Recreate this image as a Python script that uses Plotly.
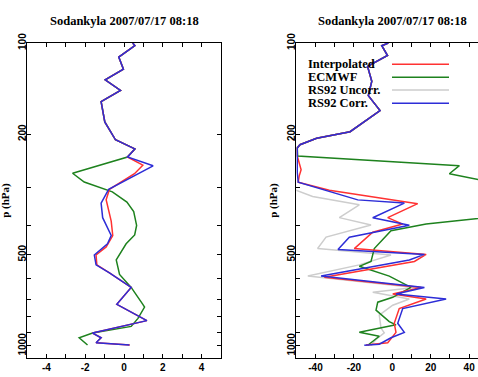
import plotly.graph_objects as go
import math

# ---------------- data ----------------
TITLE = "Sodankyla 2007/07/17 08:18"
series_names = ["Interpolated", "ECMWF", "RS92 Uncorr.", "RS92 Corr."]
series_colors = ["rgb(255,50,50)", "rgb(30,130,30)", "rgb(205,205,205)", "rgb(45,45,215)"]

# Left panel (pressure hPa, value)
top_p = [100, 102, 111.2, 121.9, 132.2, 143.4, 156, 182.2, 208.6, 223.6, 237.8]
top_x = [0.45, 0.56, -0.27, -0.03, -0.97, -0.18, -1.18, -0.99, -0.44, 0.56, 0.18]

left_corr_p = top_p + [254.2, 304.2, 337.6, 377.2, 401, 432, 460, 501, 540, 574, 641, 729, 825, 907, 940, 976, 993]
left_corr_x = top_x + [1.50, -0.79, -1.18, -1.10, -0.92, -0.66, -0.85, -1.53, -1.44, -0.75, 0.37, -0.37, 1.18, -1.62, -1.18, -1.44, 0.28]

left_interp_p = top_p + [253, 270, 304, 329, 359, 387, 432, 471, 501, 540, 574, 641, 729, 825, 907, 940, 976, 993]
left_interp_x = top_x + [0.97, 0.54, -0.75, -0.92, -0.79, -0.66, -0.58, -0.92, -1.44, -1.40, -0.75, 0.37, -0.37, 1.18, -1.62, -1.18, -1.44, 0.30]

left_ecmwf_p = top_p + [269, 287.6, 310, 335, 360, 400, 430, 460, 520, 581, 641, 729, 744, 811, 862, 907, 940, 993]
left_ecmwf_x = top_x + [-2.65, -2.05, -0.6, 0.15, 0.5, 0.65, 0.55, 0.11, -0.40, -0.23, 0.37, 0.97, 1.06, 0.72, 0.37, -1.62, -2.31, -1.88]

# Right panel (pressure hPa, value)
rtop_p = [100, 102, 109.9, 119.4, 133.8, 149.1, 167, 196.2, 206.2, 216.5]
rtop_x = [-2.1, -5.5, -2.5, -12.9, -10.7, -12.5, -6.4, -22, -39.4, -48.1]

right_corr_p = rtop_p + [222, 236, 267, 288, 309.7, 329.4, 337.6, 377.2, 399.3, 437.4, 480.6, 498.6, 520, 588, 641, 674, 700, 753, 842, 902, 940, 987, 995]
right_corr_x = rtop_x + [-49.5, -49.5, -49.5, -49, -32.8, -18, 6.25, -10.2, 8.85, -22.4, -28.3, 16.7, 8.85, -37.1, 16.7, 1.9, 28, 5.4, 2.8, 6.25, -0.7, -6.8, -14.6]

right_interp_p = rtop_p + [222, 236, 262, 275, 288, 306, 339, 377, 396, 421.5, 477, 498.6, 526, 593, 641, 674, 700, 753, 842, 902, 976, 993]
right_interp_x = rtop_x + [-49.5, -49.5, -47.5, -48.5, -49, -32.8, 13.2, -2.4, 5.4, -10.2, -19.8, 17.6, 11.5, -35.4, 15, 0.2, 17.6, 3.6, 1.0, 1.9, -2.4, -13.7]

right_uncorr_p = rtop_p + [235, 290, 306, 321, 342, 377, 399, 437, 477, 501, 540, 588, 641, 665.5, 700, 734, 791, 873, 906, 952, 995]
right_uncorr_x = rtop_x + [-55, -55, -50.2, -41.5, -17.2, -27.6, -11.1, -34.5, -38.9, -0.7, -17.2, -44, 11.5, -10.2, 8.85, 0.2, -6.8, -5.9, -4.2, -8.5, -11.1]

right_ecmwf_p = rtop_p + [222, 236, 254, 270, 304, 355, 396, 416.5, 477, 526, 546, 588, 641, 691, 717, 762, 831, 852, 902, 929, 995]
right_ecmwf_x = rtop_x + [-49.5, -49.3, 34.9, 29.7, 70, 87, 17.6, -0.7, -9.4, -11.1, -17.2, -1.6, 9.7, 0.2, -7.6, -8.5, -1.6, 1.9, -17.2, -6.8, -12.8]

left_xticks = list(range(-5, 6))
left_xlabels = ["", "-4", "", "-2", "", "0", "", "2", "", "4", ""]
right_xticks = list(range(-50, 50, 10))
right_xlabels = ["", "-40", "", "-20", "", "0", "", "20", "", "40"]
p_ticks = [100, 200, 300, 400, 500, 600, 700, 800, 900, 1000]
p_labels = ["100", "200", "", "", "500", "", "", "", "", "1000"]

# ---------------- figure ----------------
W, H = 478, 377
fig = go.Figure()

def add(xs, ps, color, xa, ya):
    fig.add_trace(go.Scatter(x=xs, y=ps, mode="lines", xaxis=xa, yaxis=ya,
                             line=dict(color=color, width=1.5), showlegend=False,
                             hoverinfo="skip"))

# left panel
add(left_ecmwf_x, left_ecmwf_p, series_colors[1], "x", "y")
add(left_interp_x, left_interp_p, series_colors[0], "x", "y")
add(left_corr_x, left_corr_p, series_colors[3], "x", "y")
# right panel
add(right_uncorr_x, right_uncorr_p, series_colors[2], "x2", "y2")
add(right_ecmwf_x, right_ecmwf_p, series_colors[1], "x2", "y2")
add(right_interp_x, right_interp_p, series_colors[0], "x2", "y2")
add(right_corr_x, right_corr_p, series_colors[3], "x2", "y2")

tickfont = dict(family="Liberation Sans", size=10, color="black", weight="bold")
ybot = math.log10(1098)
ydom = [1 - 357.7 / H, 1 - 34 / H]

xcommon = dict(showline=True, linecolor="black", linewidth=1.2, ticks="inside", ticklen=4,
               tickcolor="black", showgrid=False, zeroline=False, tickfont=tickfont,
               mirror="ticks")
ycommon = dict(type="log", range=[ybot, 2], showline=True, linecolor="black", linewidth=1.2,
               ticks="inside", ticklen=4, tickcolor="black", showgrid=False, zeroline=False,
               tickfont=tickfont, tickangle=-90, tickvals=p_ticks, ticktext=p_labels,
               domain=ydom, ticklabelstandoff=-4)

fig.update_layout(
    width=W, height=H, margin=dict(l=0, r=0, t=0, b=0),
    paper_bgcolor="white", plot_bgcolor="white",
    xaxis=dict(xcommon, domain=[27 / W, 221 / W], range=[-5, 5],
               tickvals=left_xticks, ticktext=left_xlabels, anchor="y"),
    yaxis=dict(ycommon, anchor="x", mirror="ticks"),
    xaxis2=dict(xcommon, domain=[296.3 / W, 1.0], range=[-50, 44.6],
                tickvals=right_xticks, ticktext=right_xlabels, anchor="y2"),
    yaxis2=dict(ycommon, anchor="x2", mirror=False),
)

serif = "Liberation Serif"
ann = []
for cx in (124 / W, 392.3 / W):
    ann.append(dict(text=TITLE, x=cx, y=1 - 11 / H, xref="paper", yref="paper",
                    showarrow=False, xanchor="center", yanchor="middle",
                    font=dict(family=serif, size=12.5, color="black", weight="bold")))
for lx in (6 / W, 274 / W):
    ann.append(dict(text="p (hPa)", x=lx, y=1 - 196 / H, xref="paper", yref="paper",
                    showarrow=False, xanchor="center", yanchor="middle", textangle=-90,
                    font=dict(family=serif, size=11, color="black", weight="bold")))

shapes = []
leg_y = [55.7, 69, 82.3, 95.7]
for name, col, yy in zip(series_names, series_colors, leg_y):
    ann.append(dict(text=name, x=306 / W, y=1 - yy / H, xref="paper", yref="paper",
                    showarrow=False, xanchor="left", yanchor="middle",
                    font=dict(family=serif, size=12.5, color="black", weight="bold")))
    shapes.append(dict(type="line", xref="paper", yref="paper", x0=392 / W, x1=449 / W,
                       y0=1 - yy / H, y1=1 - yy / H, line=dict(color=col, width=1.5)))

fig.update_layout(annotations=ann, shapes=shapes)
fig.write_html("out.html")
